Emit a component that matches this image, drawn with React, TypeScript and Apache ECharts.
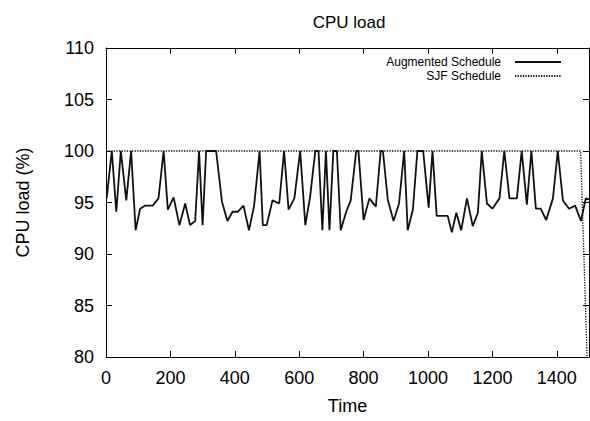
import React, { useEffect, useRef } from "react";
import * as echarts from "echarts";

const augTime = [2, 18, 32, 46, 63, 78, 92, 106, 122, 145, 163, 179, 192, 210, 228, 246, 261, 277, 289, 300, 311, 342, 360, 377, 393, 409, 427, 444, 460, 477, 487, 499, 517, 538, 553, 567, 585, 603, 619, 634, 650, 660, 672, 683, 694, 706, 717, 729, 746, 760, 777, 784, 800, 818, 838, 853, 860, 875, 893, 910, 926, 937, 953, 967, 985, 1002, 1014, 1027, 1061, 1074, 1088, 1103, 1121, 1139, 1155, 1167, 1183, 1200, 1222, 1237, 1253, 1276, 1291, 1307, 1321, 1335, 1350, 1367, 1388, 1403, 1419, 1438, 1457, 1475, 1490, 1500];
const augLoad = [95.4, 100, 94.1, 100, 95.2, 100, 92.3, 94.4, 94.7, 94.7, 95.4, 100, 94.3, 95.5, 92.8, 94.9, 92.8, 93.2, 100, 92.8, 100, 100, 95.1, 93.2, 94.1, 94.1, 94.7, 92.3, 94.7, 100, 92.8, 92.8, 95.2, 94.9, 100, 94.3, 95.4, 100, 92.8, 95.6, 100, 100, 92.3, 100, 92.3, 100, 100, 92.3, 94.1, 95.2, 100, 100, 93.3, 95.4, 94.6, 100, 100, 95.3, 93.2, 94.9, 100, 92.3, 94.3, 100, 100, 94.5, 100, 93.7, 93.7, 92.1, 94.0, 92.3, 95.4, 92.7, 94.0, 100, 94.9, 94.4, 95.4, 100, 95.4, 95.4, 100, 94.8, 100, 94.4, 94.4, 93.3, 95.4, 100, 95.2, 94.4, 94.7, 93.2, 95.4, 95.3];

const sjfTime = [0, 1474, 1494];
const sjfLoad = [100, 100, 80];

const FONT = "Liberation Sans, Arial, Helvetica, sans-serif";

export default function App() {
  const ref = useRef<HTMLDivElement>(null);
  useEffect(() => {
    if (!ref.current) return;
    const chart = echarts.init(ref.current, undefined, { renderer: "svg" });
    const axisCommon = {
      type: "value" as const,
      axisLine: { show: true, onZero: false, lineStyle: { color: "#000", width: 1 } },
      axisTick: { show: true, inside: true, length: 6, lineStyle: { color: "#000" } },
      splitLine: { show: false },
    };
    const plain = (v: number) => String(v);
    chart.setOption({
      animation: false,
      backgroundColor: "#fff",
      title: {
        text: "CPU load",
        left: 344,
        top: 9,
        textAlign: "center",
        textStyle: { fontFamily: FONT, fontSize: 17, fontWeight: "normal", color: "#000" },
      },
      legend: {
        orient: "vertical",
        right: 28,
        top: 56,
        padding: 0,
        align: "right",
        itemWidth: 46,
        itemHeight: 10,
        itemGap: 2,
        itemStyle: { opacity: 0 },
        textStyle: { fontFamily: FONT, fontSize: 12, color: "#000", padding: [0, 9, 0, 0] },
        data: ["Augmented Schedule", "SJF Schedule"],
      },
      grid: { left: 106, right: 1, top: 48, bottom: 64 },
      xAxis: [
        {
          ...axisCommon,
          position: "bottom",
          min: 0,
          max: 1500,
          interval: 200,
          name: "Time",
          nameLocation: "middle",
          nameGap: 40,
          nameTextStyle: { fontFamily: FONT, fontSize: 18, color: "#000" },
          axisLabel: { fontFamily: FONT, fontSize: 18, color: "#000", margin: 12, showMaxLabel: false, formatter: plain },
        },
        {
          ...axisCommon,
          position: "top",
          min: 0,
          max: 1500,
          interval: 200,
          axisLabel: { show: false },
        },
      ],
      yAxis: [
        {
          ...axisCommon,
          position: "left",
          min: 80,
          max: 110,
          interval: 5,
          name: "CPU load (%)",
          nameLocation: "middle",
          nameGap: 74,
          nameTextStyle: { fontFamily: FONT, fontSize: 18, color: "#000" },
          axisLabel: { fontFamily: FONT, fontSize: 18, color: "#000", margin: 12, formatter: plain },
        },
        {
          ...axisCommon,
          position: "right",
          min: 80,
          max: 110,
          interval: 5,
          axisLabel: { show: false },
        },
      ],
      series: [
        {
          name: "Augmented Schedule",
          type: "line",
          symbol: "none",
          data: augTime.map((t, i) => [t, augLoad[i]]),
          lineStyle: { color: "#111", width: 1.8 },
          itemStyle: { color: "#111" },
          z: 3,
        },
        {
          name: "SJF Schedule",
          type: "line",
          symbol: "none",
          data: sjfTime.map((t, i) => [t, sjfLoad[i]]),
          lineStyle: { color: "#111", width: 1.3, type: [1.3, 1.3] },
          itemStyle: { color: "#111" },
          z: 2,
        },
      ],
    });
    return () => chart.dispose();
  }, []);
  return <div ref={ref} style={{ position: "fixed", left: 0, top: 0, width: 590, height: 421 }} />;
}
